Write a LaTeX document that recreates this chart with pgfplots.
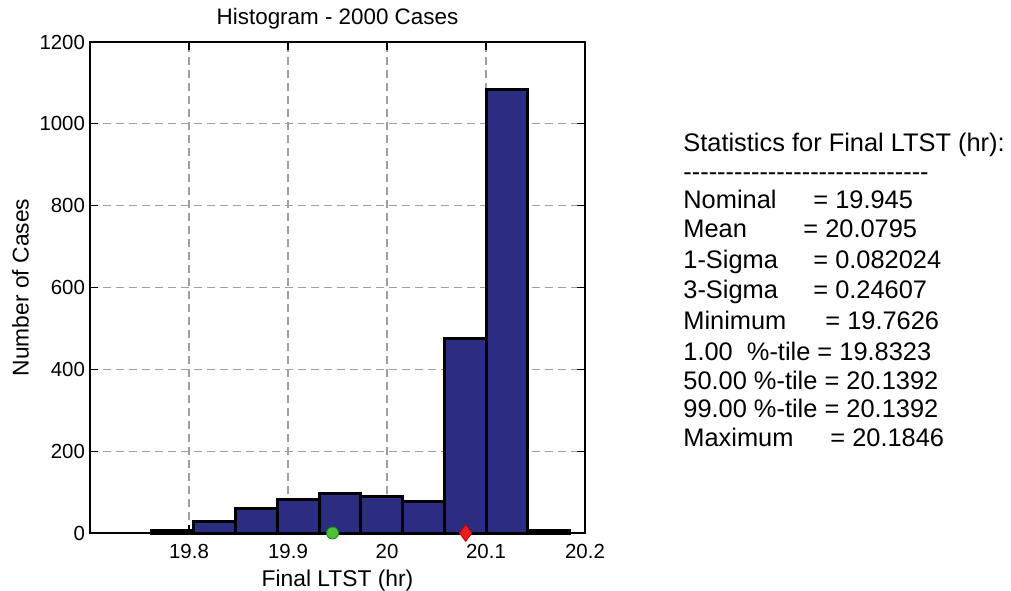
\documentclass[border=0pt]{standalone}
\usepackage{pgfplots}
\pgfplotsset{compat=1.18}
\usepackage{fontspec}
\setmainfont{Liberation Sans}
\newfontfamily\nolig{Liberation Sans}
\definecolor{barblue}{RGB}{43,45,128}

% histogram bin edges (min 19.7626, max 20.1846, 10 bins)
\pgfplotstableread{
edge count
19.7626 5
19.8048 29
19.8470 61
19.8892 81
19.9314 97
19.9736 90
20.0158 78
20.0580 476
20.1002 1083
20.1424 5
20.1846 5
}\histdata

\begin{document}
\begin{tikzpicture}
\useasboundingbox (-45pt,-28.5pt) rectangle (460.5pt,266.5pt);
\begin{axis}[
  at={(0,0)}, anchor=south west,
  scale only axis,
  width=247.5pt, height=245.5pt,
  xmin=19.7, xmax=20.2,
  ymin=0, ymax=1200,
  xtick={19.8,19.9,20,20.1,20.2},
  xticklabels={19.8,19.9,20,20.1,20.2},
  ytick={0,200,...,1200},
  /pgf/number format/assume math mode=true,
  /pgf/number format/set thousands separator={},
  tick align=inside,
  tick pos=both,
  major tick length=4pt,
  grid=major,
  major grid style={dash pattern=on 4pt off 2.5pt, gray!75, line width=0.6pt},
  axis line style={line width=0.6pt},
  tick style={black, line width=0.6pt},
  tick label style={font=\fontsize{10.2}{12}\selectfont},
  yticklabel style={xshift=1pt},
  xticklabel style={yshift=-2pt},
  title={Histogram - 2000 Cases},
  title style={font=\fontsize{11.2}{13}\selectfont, yshift=-3pt},
  xlabel={Final LTST (hr)},
  ylabel={Number of Cases},
  label style={font=\fontsize{11.4}{13}\selectfont},
  xlabel style={yshift=1pt},
  ylabel style={yshift=-1.5pt},
  clip=false,
]
\addplot[ybar interval, fill=barblue, draw=black, line width=1.5pt] table[x=edge, y=count] {\histdata};
\addplot[only marks, mark=*, mark size=3pt, draw=green!60!black, fill={rgb,255:red,80;green,190;blue,60}] coordinates {(19.945,0)};
\addplot[only marks, mark=diamond*, mark size=4.2pt, draw=red!75!black, fill={rgb,255:red,235;green,30;blue,30}] coordinates {(20.0795,0)};
\end{axis}
\begin{scope}[every node/.style={inner sep=0pt, anchor=base west, font=\fontsize{12.7}{14}\selectfont}]
\node at (296.5pt,190.5pt) {Statistics for Final LTST (hr):};
\node at (296.5pt,176pt) {\nolig -----------------------------};
\node at (296.5pt,162pt) {Nominal};      \node at (361.5pt,162pt) {= 19.945};
\node at (296.5pt,147.5pt) {Mean};       \node at (356.5pt,147.5pt) {= 20.0795};
\node at (296.5pt,132pt) {1-Sigma};      \node at (361.5pt,132pt) {= 0.082024};
\node at (296.5pt,117.5pt) {3-Sigma};    \node at (361.5pt,117.5pt) {= 0.24607};
\node at (296.5pt,102pt) {Minimum};      \node at (367.5pt,102pt) {= 19.7626};
\node at (296.5pt,86.5pt) {1.00 \ \%-tile = 19.8323};
\node at (296.5pt,72pt) {50.00 \%-tile = 20.1392};
\node at (296.5pt,58pt) {99.00 \%-tile = 20.1392};
\node at (296.5pt,43.5pt) {Maximum};     \node at (370pt,43.5pt) {= 20.1846};
\end{scope}
\end{tikzpicture}
\end{document}
